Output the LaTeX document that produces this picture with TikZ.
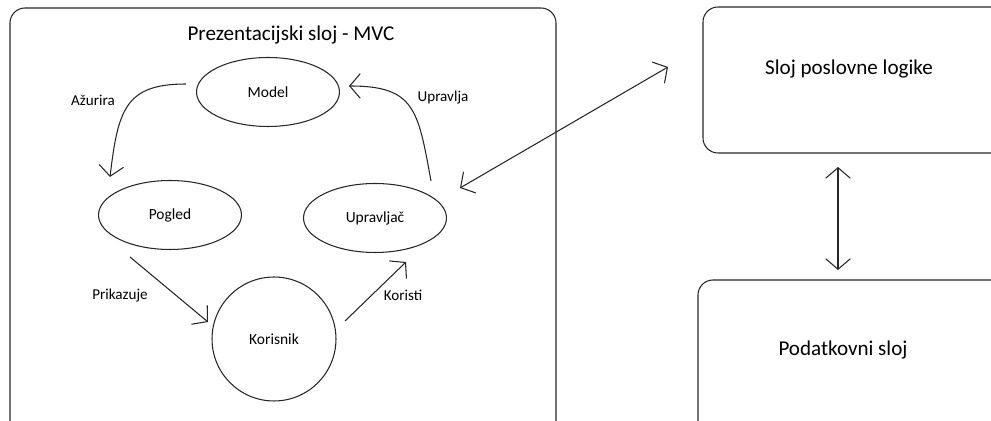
\documentclass[tikz,border=0pt]{standalone}
\usepackage{fontspec}
\setmainfont{Carlito}
\usetikzlibrary{arrows.meta, shapes.geometric}

\begin{document}
\begin{tikzpicture}[
        x=0.02cm, y=-0.02cm,
        line width=0.6pt,
        layer/.style={draw=black!85, rounded corners=0.3cm},
        part/.style={draw=black!85, ellipse, minimum width=2.86cm, minimum height=1.38cm, font=\fontsize{8.8}{10}\selectfont},
        flow/.style={draw=black!85, -{Straight Barb[length=6pt,width=14pt]}},
        both/.style={draw=black!85, {Straight Barb[length=6pt,width=14pt]}-{Straight Barb[length=6pt,width=14pt]}},
        lbl/.style={font=\fontsize{8.6}{10}\selectfont},
        big/.style={font=\fontsize{12}{14}\selectfont}
    ]
        \useasboundingbox (0,0) rectangle (991,421);
        \clip (0,0) rectangle (991,421);

        % layers
        \draw[layer] (10,8) rectangle (556,440);
        \draw[layer] (703,7) rectangle (1020,153);
        \draw[layer] (698,280) rectangle (1020,440);
        \node[big] (title) at (291,35) {Prezentacijski sloj - MVC};
        \node[big] (logic) at (849,69) {Sloj poslovne logike};
        \node[big] (data) at (843,350) {Podatkovni sloj};

        % MVC
        \node[part] (model) at (268,92) {Model};
        \node[part] (view) at (170,215) {Pogled};
        \node[part] (ctrl) at (375,218) {Upravljač};
        \node[part, circle, minimum size=2.48cm] (user) at (274,339) {Korisnik};

        \draw[flow] (186,84) .. controls (125,84) and (118,110) .. (110,177);
        \draw[flow] (431,181) .. controls (418,110) and (415,86) .. (349,86);
        \draw[flow] (130,257) -- (208,322);
        \draw[flow] (345,321) -- (406,262);
        \node[lbl] (upd) at (93,100) {Ažurira};
        \node[lbl] (ctl) at (443,98) {Upravlja};
        \node[lbl] (shw) at (120,296) {Prikazuje};
        \node[lbl] (use) at (403,295) {Koristi};

        % between layers
        \coordinate (c1) at (460,188);
        \coordinate (c2) at (668,67);
        \coordinate (c3) at (838,167);
        \coordinate (c4) at (838,270);
        \draw[both] (c1) -- (c2);
        \draw[both] (c3) -- (c4);
    \end{tikzpicture}
\end{document}
